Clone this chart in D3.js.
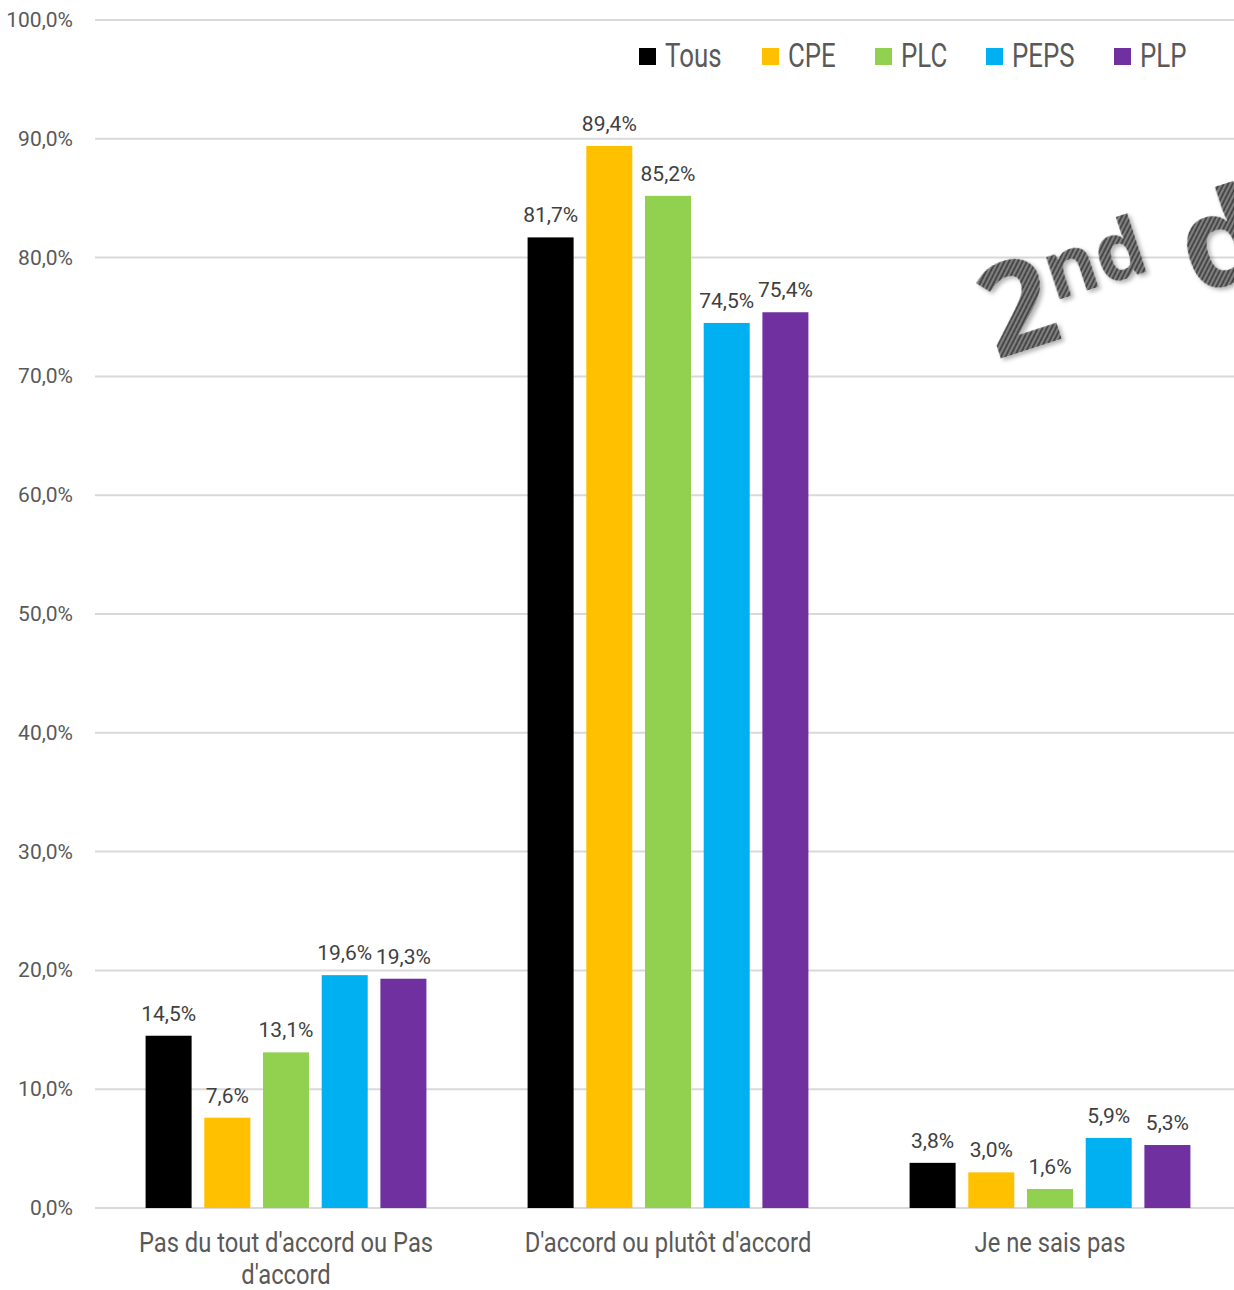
<!DOCTYPE html>
<html>
<head>
<meta charset="utf-8">
<script src="https://cdn.jsdelivr.net/npm/d3@7"></script>
<style>
  html, body { margin: 0; padding: 0; background: #fff; }
  svg { display: block; font-family: Roboto, "Open Sans", sans-serif; }
</style>
</head>
<body>
<div id="chart"></div>
<script>
'use strict';

// ─── Data ────────────────────────────────────────────────────────────────────
const categories = ["Pas du tout d'accord ou Pas d'accord", "D'accord ou plutôt d'accord", "Je ne sais pas"];
const seriesNames = ['Tous', 'CPE', 'PLC', 'PEPS', 'PLP'];
const tous = [14.5, 81.7, 3.8];
const cpe  = [7.6, 89.4, 3.0];
const plc  = [13.1, 85.2, 1.6];
const peps = [19.6, 74.5, 5.9];
const plp  = [19.3, 75.4, 5.3];
const yTicks = [0, 10, 20, 30, 40, 50, 60, 70, 80, 90, 100];

const seriesValues = [tous, cpe, plc, peps, plp];
const colors = ['#000000', '#FFC000', '#92D050', '#00B0F0', '#7030A0'];

// ─── Layout ──────────────────────────────────────────────────────────────────
const W = 1234, H = 1290;
const plot = { left: 95, right: 1241, top: 20, bottom: 1208 };
const textColor = '#595959';
const fmt = v => d3.format('.1f')(v).replace('.', ',') + '%';

const svg = d3.select('#chart').append('svg').attr('width', W).attr('height', H);

const x0 = d3.scaleBand().domain(categories).range([plot.left, plot.right]).paddingInner(0).paddingOuter(0);
const groupW = 293.5;
const x1 = d3.scaleBand().domain(seriesNames).range([-groupW / 2, groupW / 2]).paddingInner(0.216).paddingOuter(0.108);
const y = d3.scaleLinear().domain([0, 100]).range([plot.bottom, plot.top]);

// ─── Defs (watermark texture) ────────────────────────────────────────────────
const defs = svg.append('defs');
const pat = defs.append('pattern')
  .attr('id', 'carbon').attr('patternUnits', 'userSpaceOnUse')
  .attr('width', 4).attr('height', 4)
  .attr('patternTransform', 'rotate(-45)');
pat.append('rect').attr('width', 4).attr('height', 4).attr('fill', '#404040');
pat.append('rect').attr('width', 4).attr('height', 1.8).attr('fill', '#8c8c8c');

const shadow = defs.append('filter').attr('id', 'shadow').attr('x', '-20%').attr('y', '-20%').attr('width', '140%').attr('height', '140%');
shadow.append('feDropShadow').attr('dx', 2).attr('dy', 3).attr('stdDeviation', 2)
  .attr('flood-color', '#000').attr('flood-opacity', 0.3);

// Gridlines
svg.append('g')
  .selectAll('line')
  .data(yTicks)
  .join('line')
  .attr('x1', plot.left).attr('x2', W)
  .attr('y1', d => y(d)).attr('y2', d => y(d))
  .attr('stroke', '#d9d9d9').attr('stroke-width', 2);

// Watermark "2nd degré" (cut off at the right edge, as in the source)
const wm = svg.append('text')
  .attr('transform', 'translate(996,360) rotate(-18)')
  .attr('font-family', '"Open Sans", sans-serif')
  .attr('font-weight', 700)
  .attr('fill', 'url(#carbon)')
  .attr('filter', 'url(#shadow)');
wm.append('tspan').attr('font-size', 128).text('2');
wm.append('tspan').attr('font-size', 80).attr('dy', -38).text('nd');
wm.append('tspan').attr('font-size', 128).attr('dy', 38).text('\u00a0d');

// ─── Y axis labels ───────────────────────────────────────────────────────────
svg.append('g')
  .selectAll('text')
  .data(yTicks)
  .join('text')
  .attr('x', 73).attr('y', d => y(d))
  .attr('text-anchor', 'end').attr('dominant-baseline', 'central')
  .attr('font-size', 21).attr('fill', textColor)
  .text(d => d3.format('.1f')(d).replace('.', ',') + '%');

// ─── Bars ────────────────────────────────────────────────────────────────────
const groups = svg.append('g')
  .selectAll('g')
  .data(categories)
  .join('g')
  .attr('transform', d => `translate(${x0(d) + x0.bandwidth() / 2},0)`);

groups.each(function(cat, ci) {
  const g = d3.select(this);
  const rows = seriesNames.map((s, si) => ({ s, si, v: seriesValues[si][ci] }));
  g.selectAll('rect')
    .data(rows)
    .join('rect')
    .attr('x', d => x1(d.s))
    .attr('width', x1.bandwidth())
    .attr('y', d => y(d.v))
    .attr('height', d => y(0) - y(d.v))
    .attr('fill', d => colors[d.si]);
  g.selectAll('text')
    .data(rows)
    .join('text')
    .attr('x', d => x1(d.s) + x1.bandwidth() / 2)
    .attr('y', d => y(d.v) - 15)
    .attr('text-anchor', 'middle')
    .attr('font-size', 21).attr('fill', '#404040')
    .text(d => fmt(d.v));
});

// ─── Category labels ─────────────────────────────────────────────────────────
const catLines = [["Pas du tout d'accord ou Pas", "d'accord"], ["D'accord ou plutôt d'accord"], ["Je ne sais pas"]];
svg.append('g')
  .selectAll('text')
  .data(categories)
  .join('text')
  .attr('transform', d => `translate(${x0(d) + x0.bandwidth() / 2},1252) scale(0.88,1)`)
  .attr('text-anchor', 'middle')
  .attr('font-size', 27).attr('fill', textColor)
  .each(function(d, i) {
    const t = d3.select(this);
    catLines[i].forEach((line, li) => {
      t.append('tspan').attr('x', 0).attr('y', li * 32).text(line);
    });
  });

// ─── Legend ──────────────────────────────────────────────────────────────────
const legendX = [639, 762, 875, 986, 1114];
const legend = svg.append('g')
  .selectAll('g')
  .data(seriesNames)
  .join('g')
  .attr('transform', (d, i) => `translate(${legendX[i]},48)`);
legend.append('rect')
  .attr('width', 17).attr('height', 17)
  .attr('fill', (d, i) => colors[i]);
legend.append('text')
  .attr('transform', 'translate(26,19) scale(0.76,1)')
  .attr('font-size', 34).attr('fill', textColor)
  .text(d => d);
</script>
</body>
</html>
